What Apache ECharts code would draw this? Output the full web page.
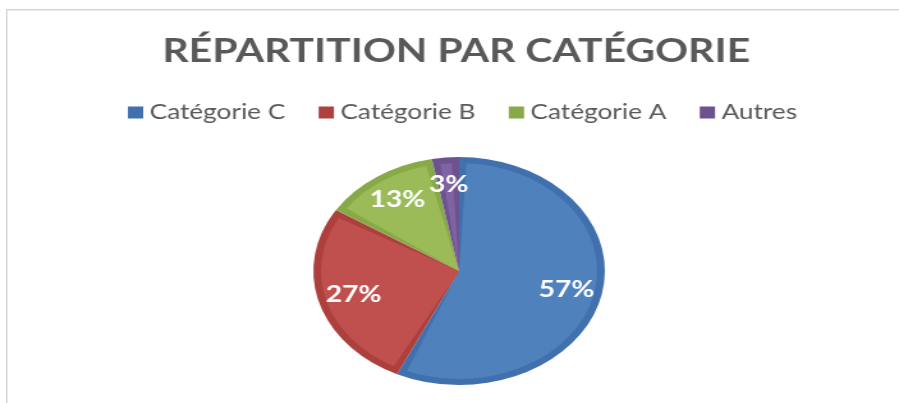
<!DOCTYPE html>
<html>
<head>
<meta charset="utf-8">
<script src="https://cdn.jsdelivr.net/npm/echarts@6/dist/echarts.min.js"></script>
<style>
html,body{margin:0;padding:0;background:#fff;overflow:hidden;}
#frame{position:absolute;left:6px;top:9px;width:900px;height:400px;border-left:1px solid #d4d4d4;border-top:1px solid #d4d4d4;box-shadow:inset 1px 1px 0 #ececec;}
#chart{position:absolute;left:0;top:0;width:703px;height:403px;transform:scaleX(1.2788);transform-origin:0 0;}
</style>
</head>
<body>
<div id="frame"></div>
<div id="chart"></div>
<script>
const titleText = 'RÉPARTITION PAR CATÉGORIE';
const categories = ['Catégorie C', 'Catégorie B', 'Catégorie A', 'Autres'];
const values = [57, 27, 13, 3];
const fillColors = ['#4f81bd', '#c0504d', '#9bbb59', '#8064a2'];
const edgeColors = ['#4070ad', '#ad403d', '#88a948', '#6d5290'];

const chart = echarts.init(document.getElementById('chart'), null, {renderer: 'canvas'});
const font = 'Lato, "Open Sans", sans-serif';
const mk = (cols) => categories.map((n, i) => ({name: n, value: values[i], itemStyle: {color: cols[i]}}));
const center = [359, 271];
chart.setOption({
  animation: false,
  title: {
    text: titleText, left: 122, top: 31,
    textStyle: {fontFamily: font, fontWeight: 'bold', fontSize: 32, color: '#595959'}
  },
  legend: {
    data: categories, top: 97, left: 95,
    icon: 'rect', itemWidth: 12, itemHeight: 12, itemGap: 26,
    textStyle: {fontFamily: font, fontSize: 20.5, color: '#595959'}
  },
  series: [
    {
      type: 'pie', center: center, radius: [0, 114], startAngle: 90, clockwise: true,
      silent: true, label: {show: false}, labelLine: {show: false},
      data: mk(edgeColors)
    },
    {
      type: 'pie', center: center, radius: [0, 108], startAngle: 90, clockwise: true,
      padAngle: 6, silent: true, label: {show: false}, labelLine: {show: false},
      data: mk(fillColors)
    },
    {
      type: 'pie', center: center, radius: [46, 120], startAngle: 90, clockwise: true,
      silent: true, itemStyle: {color: 'rgba(0,0,0,0)'},
      label: {show: true, position: 'inside', formatter: '{d}%', color: '#fff',
        fontFamily: font, fontWeight: 'bold', fontSize: 22},
      labelLine: {show: false},
      data: categories.map((n, i) => ({name: n, value: values[i]}))
    }
  ]
});
</script>
</body>
</html>
